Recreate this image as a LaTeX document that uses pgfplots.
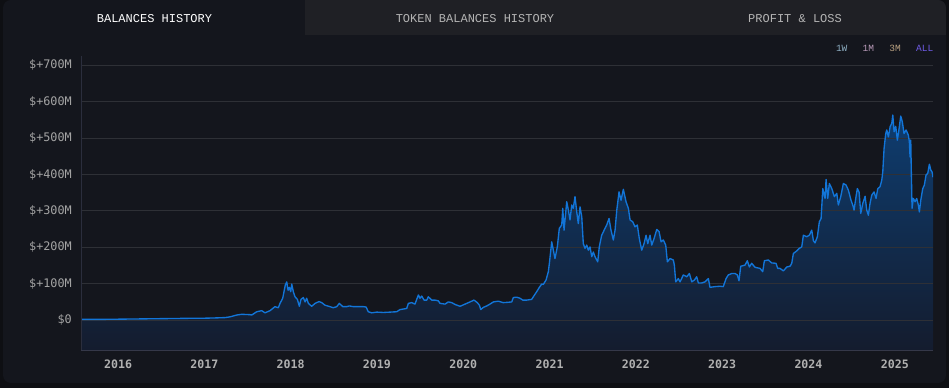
\documentclass[border=0pt]{standalone}
\usepackage{pgfplots}
\pgfplotsset{compat=1.18}
\usepackage{pgfplotstable}
\usepackage{fontspec}
\setmainfont{Liberation Mono}
\setmonofont{Liberation Mono}
\newfontfamily\tickfont{DejaVu Sans Mono}
\definecolor{outerbg}{HTML}{0E0F13}
\definecolor{cardbg}{HTML}{14161D}
\definecolor{tabinactive}{HTML}{1F2025}
\definecolor{gridc}{HTML}{2E3036}
\definecolor{lineblue}{HTML}{1275D8}
\definecolor{filltop}{HTML}{0E3D70}
\definecolor{fillbot}{HTML}{141C2E}
\definecolor{yticklab}{HTML}{A4A4A4}
\definecolor{xticklab}{HTML}{B0B0B0}
\definecolor{yaxisc}{HTML}{2B2E3D}
\definecolor{xaxisc}{HTML}{353849}
\definecolor{tabtext}{HTML}{B4B4B4}
\definecolor{btnw}{HTML}{8FB0C4}
\definecolor{btnm}{HTML}{B89AB8}
\definecolor{btnt}{HTML}{B8A080}
\definecolor{btnall}{HTML}{6F5CE6}

\pgfplotstableread{
year value
2015.571 2
2015.791 2
2016.139 3
2016.487 4
2016.834 5
2016.950 5
2017.124 6
2017.240 7
2017.298 9
2017.375 14
2017.433 16
2017.530 15
2017.549 14
2017.607 23
2017.665 26
2017.703 20
2017.761 26
2017.819 37
2017.857 34
2017.877 46
2017.908 60
2017.923 78
2017.938 96
2017.955 105
2017.970 82
2017.985 90
2018.001 78
2018.013 99
2018.031 78
2018.051 64
2018.078 57
2018.101 38
2018.120 57
2018.147 62
2018.167 50
2018.186 60
2018.205 46
2018.244 38
2018.283 46
2018.329 51
2018.360 48
2018.398 41
2018.456 37
2018.495 34
2018.534 37
2018.564 46
2018.604 37
2018.650 37
2018.680 39
2018.726 37
2018.842 37
2018.874 36
2018.900 23
2018.940 20
2018.998 22
2019.074 21
2019.152 22
2019.229 23
2019.268 29
2019.345 32
2019.364 46
2019.403 48
2019.441 44
2019.461 57
2019.480 69
2019.499 60
2019.519 66
2019.546 55
2019.577 55
2019.595 64
2019.635 55
2019.673 55
2019.711 53
2019.731 46
2019.789 44
2019.827 50
2019.867 48
2019.905 43
2019.963 38
2020.021 44
2020.079 50
2020.125 55
2020.163 48
2020.187 41
2020.203 29
2020.233 35
2020.272 39
2020.310 44
2020.349 50
2020.407 52
2020.464 48
2020.522 49
2020.562 50
2020.580 62
2020.619 63
2020.658 60
2020.689 55
2020.735 55
2020.793 57
2020.820 67
2020.851 78
2020.882 90
2020.909 99
2020.928 98
2020.959 110
2020.986 133
2020.998 156
2021.025 215
2021.044 192
2021.063 169
2021.090 201
2021.113 252
2021.141 261
2021.153 307
2021.168 247
2021.199 325
2021.218 302
2021.237 275
2021.257 316
2021.275 307
2021.295 339
2021.315 297
2021.333 265
2021.353 311
2021.373 284
2021.391 210
2021.411 197
2021.431 206
2021.449 192
2021.469 201
2021.489 174
2021.507 187
2021.527 174
2021.558 160
2021.576 201
2021.604 233
2021.643 252
2021.662 261
2021.689 279
2021.712 247
2021.739 220
2021.759 247
2021.779 302
2021.805 352
2021.828 329
2021.855 359
2021.886 325
2021.913 307
2021.933 275
2021.964 270
2021.990 256
2022.017 261
2022.040 224
2022.068 192
2022.095 210
2022.118 233
2022.138 210
2022.164 233
2022.184 206
2022.211 224
2022.242 249
2022.269 243
2022.292 215
2022.318 220
2022.346 206
2022.365 160
2022.396 169
2022.434 165
2022.446 151
2022.462 105
2022.492 114
2022.512 105
2022.550 124
2022.590 119
2022.620 128
2022.648 105
2022.678 110
2022.705 119
2022.724 102
2022.763 102
2022.801 105
2022.840 114
2022.859 90
2022.917 92
2022.975 93
2023.013 92
2023.045 114
2023.071 124
2023.111 128
2023.149 128
2023.176 124
2023.195 108
2023.215 148
2023.265 151
2023.291 163
2023.315 146
2023.342 156
2023.381 145
2023.439 142
2023.470 133
2023.489 163
2023.535 165
2023.574 157
2023.624 156
2023.644 142
2023.671 142
2023.709 135
2023.749 146
2023.787 148
2023.806 156
2023.825 183
2023.864 190
2023.894 197
2023.922 201
2023.941 233
2023.980 229
2024.010 233
2024.038 247
2024.057 218
2024.076 212
2024.103 229
2024.126 270
2024.146 279
2024.166 361
2024.192 334
2024.204 386
2024.223 334
2024.242 375
2024.270 361
2024.300 339
2024.328 348
2024.346 316
2024.374 339
2024.404 375
2024.435 371
2024.462 357
2024.493 329
2024.513 316
2024.528 302
2024.551 339
2024.566 361
2024.586 352
2024.606 293
2024.629 320
2024.656 340
2024.675 302
2024.694 288
2024.713 320
2024.733 343
2024.760 352
2024.783 334
2024.803 361
2024.829 366
2024.849 384
2024.861 407
2024.876 471
2024.895 512
2024.907 522
2024.926 503
2024.946 531
2024.965 540
2024.977 563
2024.992 517
2025.011 532
2025.030 494
2025.050 526
2025.069 560
2025.088 544
2025.107 512
2025.131 522
2025.157 508
2025.169 490
2025.177 448
2025.185 494
2025.192 403
2025.200 307
2025.215 334
2025.235 325
2025.254 334
2025.273 316
2025.285 297
2025.301 329
2025.324 361
2025.343 371
2025.362 398
2025.382 403
2025.401 428
2025.417 412
2025.432 407
2025.443 392
}\balances

\begin{document}
\begin{tikzpicture}
\fill[outerbg] (0pt,0pt) rectangle (949pt,388pt);
\begin{scope}
\clip[rounded corners=8pt] (3pt,5pt) rectangle (946pt,388pt);
\fill[cardbg] (3pt,5pt) rectangle (946pt,388pt);
\fill[tabinactive] (305pt,353pt) rectangle (946pt,388pt);
\end{scope}
\node[text=white, font=\fontsize{12}{12}\selectfont, inner sep=0pt] at (154.5pt,369pt) {BALANCES HISTORY};
\node[text=tabtext, font=\fontsize{12}{12}\selectfont, inner sep=0pt] at (475pt,369pt) {TOKEN BALANCES HISTORY};
\node[text=tabtext, font=\fontsize{12}{12}\selectfont, inner sep=0pt] at (795pt,369pt) {PROFIT \& LOSS};
\node[text=btnw, font=\fontsize{9.5}{10}\selectfont, inner sep=0pt] at (841.7pt,339.5pt) {1W};
\node[text=btnm, font=\fontsize{9.5}{10}\selectfont, inner sep=0pt] at (868.3pt,339.5pt) {1M};
\node[text=btnt, font=\fontsize{9.5}{10}\selectfont, inner sep=0pt] at (895pt,339.5pt) {3M};
\node[text=btnall, font=\fontsize{9.5}{10}\selectfont, inner sep=0pt] at (924.7pt,339.5pt) {ALL};

\begin{axis}[
  at={(81pt,38pt)}, anchor=south west,
  scale only axis, width=852pt, height=294pt,
  xmin=2015.571, xmax=2025.443,
  ymin=-82, ymax=725,
  axis line style={draw=none},
  major tick length=0pt,
  ytick={0,100,200,300,400,500,600,700},
  yticklabels={\$0,\$+100M,\$+200M,\$+300M,\$+400M,\$+500M,\$+600M,\$+700M},
  xtick={2016,2017,2018,2019,2020,2021,2022,2023,2024,2025},
  xticklabels={2016,2017,2018,2019,2020,2021,2022,2023,2024,2025},
  yticklabel style={font=\tickfont\fontsize{11.8}{12}\selectfont, text=yticklab, anchor=east, inner sep=0pt, xshift=-9pt},
  xticklabel style={font=\tickfont\bfseries\fontsize{11.6}{12}\selectfont, text=xticklab, anchor=north, inner sep=0pt, yshift=-9.5pt},
]
\addplot[draw=none, top color=filltop, bottom color=fillbot] table[x=year, y=value] {\balances} |- (axis cs:2015.571,-82) -- cycle;
\pgfplotsinvokeforeach{0,100,200,300,400,500,600,700}{
  \draw[gridc, line width=0.9pt] (axis cs:2015.571,#1) -- (axis cs:2025.443,#1);
}
\addplot[lineblue, line width=1.35pt, line join=round, mark=none] table[x=year, y=value] {\balances};
\draw[yaxisc, line width=1pt] (rel axis cs:0,0) -- (rel axis cs:0,1);
\draw[xaxisc, line width=1pt] (rel axis cs:0,0) -- (rel axis cs:1,0);
\end{axis}
\end{tikzpicture}
\end{document}
